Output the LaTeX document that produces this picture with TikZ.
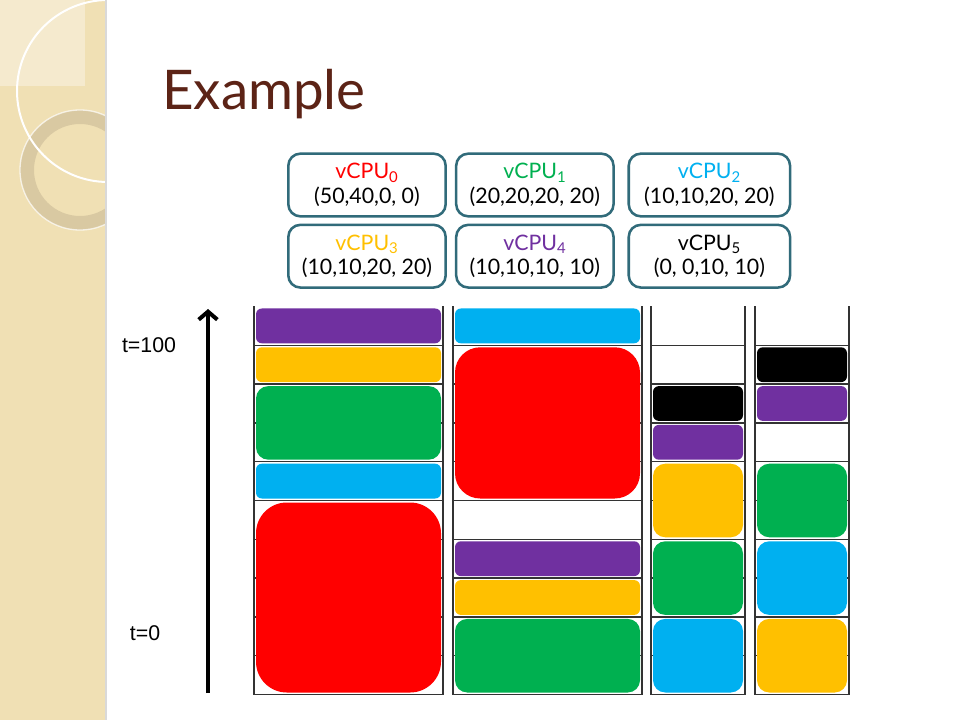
\documentclass[tikz,border=0pt]{standalone}
\usepackage{fontspec}
\setmainfont{Lato}
\newfontfamily\arialfont{Liberation Sans}
\usetikzlibrary{positioning,arrows.meta}
\usepackage{xcolor}
\definecolor{cpured}{RGB}{255,0,0}
\definecolor{cpugreen}{RGB}{0,176,80}
\definecolor{cpublue}{RGB}{0,176,240}
\definecolor{cpuyellow}{RGB}{255,192,0}
\definecolor{cpupurple}{RGB}{112,48,160}
\definecolor{cpublack}{RGB}{0,0,0}
\definecolor{boxteal}{RGB}{49,107,122}
\definecolor{titlebrown}{RGB}{92,35,22}
\definecolor{stripbeige}{RGB}{240,224,180}
\definecolor{ringbeige}{RGB}{214,198,160}

\begin{document}
\begin{tikzpicture}[x=0.75pt, y=-0.75pt, node distance=4.5pt,
    vcpu/.style={rectangle, draw=boxteal, line width=1.9pt, rounded corners=9pt, minimum width=118pt, minimum height=47pt, align=center, inner sep=0pt, font=\fontsize{16}{18.5}\selectfont},
    tlabel/.style={font=\arialfont\fontsize{16}{19}\selectfont},
    gridline/.style={black!80, line width=1.1pt}]
    \useasboundingbox (0,0) rectangle (960,720);
    \fill[white] (0,0) rectangle (960,720);
    % side strip
    \fill[stripbeige] (0,0) rectangle (106,720);
    \fill[white, opacity=0.35] (0,0) rectangle (85,86);
    \begin{scope}
        \clip (0,0) rectangle (106,720);
        \draw[ringbeige, opacity=0.85, line width=10.5pt] (80,170) circle[radius=53];
        \draw[white, opacity=0.7, line width=1pt] (80,170) circle[radius=60];
        \draw[white, line width=1.5pt] (108,91) circle[radius=91];
    \end{scope}
    \draw[black!15, line width=1pt] (106,0) -- (106,720);

    \node[anchor=base west, inner sep=0pt, text=titlebrown, font=\fontsize{41}{48}\selectfont] (title) at (162,110) {Example};

    \node[vcpu] (vcpu0) at (367,185) {\textcolor{cpured}{vCPU\textsubscript{0}}\\(50,40,0, 0)};
    \node[vcpu, right=6pt of vcpu0] (vcpu1) {\textcolor{cpugreen}{vCPU\textsubscript{1}}\\(20,20,20, 20)};
    \node[vcpu, right=9.5pt of vcpu1, minimum width=121pt] (vcpu2) {\textcolor{cpublue}{vCPU\textsubscript{2}}\\(10,10,20, 20)};
    \node[vcpu, below=of vcpu0] (vcpu3) {\textcolor{cpuyellow}{vCPU\textsubscript{3}}\\(10,10,20, 20)};
    \node[vcpu, below=of vcpu1] (vcpu4) {\textcolor{cpupurple}{vCPU\textsubscript{4}}\\(10,10,10, 10)};
    \node[vcpu, below=of vcpu2, minimum width=121pt] (vcpu5) {vCPU\textsubscript{5}\\(0, 0,10, 10)};

    % time axis
    \coordinate (tbottom) at (208,693);
    \coordinate (ttop) at (208,309);
    \draw[line width=3pt, -{Straight Barb[length=6pt,width=14pt]}] (tbottom) -- (ttop);
    \node[tlabel] (tend) at (149,345) {t=100};
    \node[tlabel] (tstart) at (145,633) {t=0};

    % schedule grid, one column per core
    \foreach \xa/\xb in {254/443, 453/642, 651/745, 755/849} {
        \draw[gridline] (\xa,306.5) -- (\xa,694.6);
        \draw[gridline] (\xb,306.5) -- (\xb,694.6);
        \foreach \k in {1,...,10}
            \draw[gridline] (\xa,{306.5+38.8*\k}) -- (\xb,{306.5+38.8*\k});
    }
    \foreach \xa/\xb/\ra/\rb/\cl in {
        254/443/0/1/cpupurple, 254/443/1/2/cpuyellow, 254/443/2/4/cpugreen, 254/443/4/5/cpublue, 254/443/5/10/cpured,
        453/642/0/1/cpublue, 453/642/1/5/cpured, 453/642/6/7/cpupurple, 453/642/7/8/cpuyellow, 453/642/8/10/cpugreen,
        651/745/2/3/cpublack, 651/745/3/4/cpupurple, 651/745/4/6/cpuyellow, 651/745/6/8/cpugreen, 651/745/8/10/cpublue,
        755/849/1/2/cpublack, 755/849/2/3/cpupurple, 755/849/4/6/cpugreen, 755/849/6/8/cpublue, 755/849/8/10/cpuyellow} {
        \pgfmathsetmacro\rad{min(\xb-\xa-4,(\rb-\ra)*38.8-4)/6*0.75}
        \fill[\cl, rounded corners=\rad pt] ({\xa+2},{306.5+38.8*\ra+2}) rectangle ({\xb-2},{306.5+38.8*\rb-2});
    }
\end{tikzpicture}
\end{document}
